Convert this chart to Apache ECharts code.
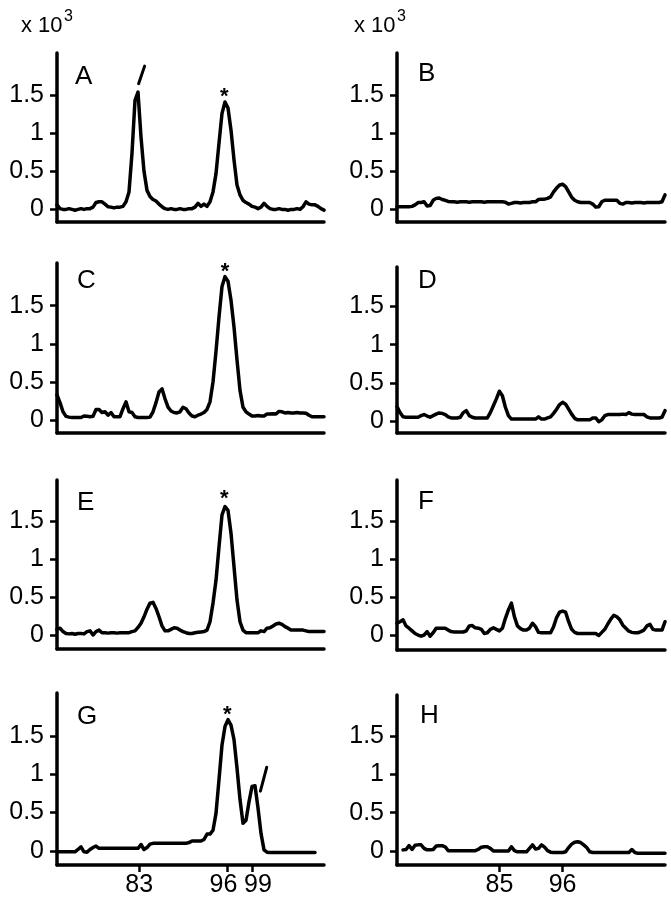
<!DOCTYPE html>
<html><head><meta charset="utf-8">
<script src="https://cdn.jsdelivr.net/npm/echarts@6/dist/echarts.min.js"></script>
<style>html,body{margin:0;padding:0;background:#fff}#c{width:671px;height:900px}</style>
</head><body><div id="c"></div>
<script>
// ---------- data (y in units of 10^3) ----------
const panelLetters = ['A','B','C','D','E','F','G','H'];

const traceA = [0.06,0.01,0,0,0.01,0,-0.01,0,0.01,0,0.01,0.01,0.03,0.09,0.1,0.1,0.07,0.035,0.03,0.02,
0.03,0.03,0.04,0.1,0.23,0.74,1.43,1.54,0.95,0.5,0.25,0.17,0.13,0.11,0.07,0.035,0.01,0,0.01,0,
0,0.01,0,0,0.01,0.01,0.03,0.08,0.04,0.07,0.04,0.1,0.23,0.47,0.87,1.26,1.41,1.33,1.04,0.65,
0.32,0.19,0.12,0.09,0.07,0.04,0.03,0.01,0.03,0.08,0.04,0.01,0,0,0.01,0,0,-0.01,0,0,
0.01,0,0.035,0.1,0.07,0.06,0.06,0.04,0.01,-0.01];

const traceB = [0.035,0.035,0.035,0.035,0.035,0.04,0.06,0.09,0.09,0.1,0.045,0.05,0.12,0.145,0.15,0.13,0.12,0.105,0.1,0.1,
0.095,0.1,0.1,0.1,0.095,0.1,0.1,0.1,0.1,0.095,0.1,0.1,0.1,0.1,0.1,0.1,0.095,0.07,0.08,0.09,
0.09,0.085,0.09,0.09,0.09,0.1,0.1,0.13,0.135,0.135,0.145,0.165,0.23,0.28,0.32,0.33,0.3,0.23,0.16,0.12,
0.1,0.09,0.09,0.09,0.09,0.07,0.03,0.035,0.1,0.12,0.12,0.12,0.12,0.12,0.08,0.07,0.09,0.09,0.085,0.09,
0.09,0.09,0.085,0.09,0.09,0.09,0.09,0.09,0.1,0.19];

const traceC = [0.33,0.23,0.11,0.05,0.04,0.035,0.035,0.035,0.035,0.055,0.05,0.045,0.05,0.14,0.14,0.1,0.11,0.065,0.1,0.045,
0.045,0.045,0.15,0.24,0.11,0.1,0.045,0.035,0.035,0.035,0.035,0.04,0.11,0.23,0.37,0.41,0.28,0.17,0.12,0.1,
0.095,0.11,0.17,0.15,0.095,0.055,0.045,0.065,0.08,0.1,0.14,0.24,0.5,0.9,1.35,1.75,1.88,1.82,1.57,1.22,
0.79,0.39,0.17,0.11,0.08,0.055,0.055,0.06,0.055,0.055,0.08,0.08,0.085,0.08,0.115,0.11,0.095,0.1,0.095,0.095,
0.1,0.095,0.095,0.09,0.065,0.045,0.045,0.045,0.045,0.045];

const traceD = [0.19,0.11,0.055,0.05,0.05,0.05,0.05,0.05,0.07,0.085,0.065,0.05,0.07,0.09,0.105,0.1,0.085,0.055,0.04,0.04,
0.04,0.05,0.11,0.135,0.07,0.05,0.04,0.04,0.04,0.04,0.04,0.11,0.2,0.29,0.39,0.33,0.18,0.07,0.025,0.025,
0.025,0.025,0.025,0.025,0.025,0.025,0.025,0.055,0.025,0.025,0.04,0.055,0.1,0.155,0.215,0.245,0.22,0.155,0.09,0.035,
0.015,0.015,0.015,0.015,0.015,0.04,0.04,-0.01,0.015,0.07,0.085,0.085,0.085,0.085,0.085,0.09,0.085,0.11,0.09,0.085,
0.085,0.085,0.085,0.055,0.04,0.04,0.04,0.04,0.05,0.135];

const traceE = [0.075,0.09,0.045,0.02,0.015,0.02,0.01,0.02,0.02,0.015,0.045,0.055,0,0.045,0.065,0.03,0.03,0.025,0.03,0.03,
0.025,0.03,0.03,0.03,0.03,0.045,0.055,0.1,0.155,0.24,0.34,0.42,0.43,0.35,0.24,0.12,0.055,0.055,0.075,0.095,
0.09,0.065,0.045,0.03,0.02,0.02,0.03,0.035,0.04,0.045,0.065,0.175,0.42,0.72,1.16,1.58,1.69,1.64,1.34,0.9,
0.46,0.175,0.065,0.03,0.03,0.03,0.03,0.03,0.055,0.045,0.09,0.095,0.12,0.145,0.155,0.14,0.11,0.09,0.065,0.065,
0.065,0.065,0.065,0.055,0.045,0.045,0.045,0.045,0.045,0.045];

const traceF = [0.155,0.175,0.2,0.12,0.09,0.055,0.02,0,-0.015,0,0.045,-0.015,0.03,0.09,0.09,0.09,0.09,0.065,0.045,0.04,
0.04,0.04,0.04,0.055,0.12,0.125,0.095,0.09,0.075,0.02,0.03,0.075,0.095,0.075,0.055,0.09,0.22,0.33,0.42,0.24,
0.12,0.085,0.065,0.065,0.09,0.155,0.11,0.035,0.03,0.03,0.03,0.03,0.11,0.23,0.3,0.315,0.3,0.175,0.075,0.035,
0.02,0.02,0.02,0.02,0.02,0.02,0.02,-0.005,0.035,0.075,0.145,0.21,0.26,0.24,0.2,0.13,0.09,0.05,0.035,0.03,
0.03,0.045,0.065,0.12,0.14,0.075,0.065,0.065,0.065,0.175];

const traceG = [-0.01,-0.01,-0.01,-0.01,-0.01,-0.01,-0.01,0.02,0.055,-0.01,-0.015,0.02,0.045,0.065,0.035,0.035,0.035,0.035,0.035,0.035,
0.035,0.035,0.035,0.035,0.035,0.035,0.035,0.035,0.085,0.02,0.045,0.09,0.1,0.1,0.1,0.1,0.1,0.1,0.1,0.1,
0.1,0.1,0.1,0.1,0.11,0.13,0.13,0.13,0.13,0.15,0.22,0.22,0.27,0.49,0.93,1.38,1.62,1.71,1.64,1.45,
1.08,0.67,0.36,0.4,0.64,0.84,0.85,0.56,0.23,0.015,-0.015,-0.02,-0.02,-0.02,-0.02,-0.02,-0.02,-0.02,-0.02,-0.02,
-0.02,-0.02,-0.02,-0.02,-0.02,-0.02,-0.02,null,null,null];

const traceH = [null,null,0.015,0.02,0.07,0.02,0.075,0.08,0.08,0.035,0.015,0.015,0.02,0.065,0.07,0.07,0.055,0.005,0.005,0.005,
0.005,0.005,0.005,0.005,0.005,0.005,0.005,0.02,0.05,0.055,0.055,0.035,0,0,0,0,0,0,0.055,0.005,
-0.01,-0.01,-0.01,-0.01,0.035,0.08,0.025,0.035,0.08,0.05,0.005,-0.015,-0.02,-0.02,-0.02,-0.02,-0.01,0.045,0.09,0.115,
0.12,0.11,0.08,0.045,-0.01,-0.02,-0.02,-0.02,-0.02,-0.02,-0.02,-0.02,-0.02,-0.02,-0.02,-0.02,-0.02,-0.02,0.02,-0.02,
-0.03,-0.03,-0.03,-0.03,-0.03,-0.03,-0.03,-0.03,-0.03,-0.03];

const traces = [traceA, traceB, traceC, traceD, traceE, traceF, traceG, traceH];

const yTickValues = [0, 0.5, 1, 1.5];
const leftTickPositions = [27.4, 56.8, 65.0];
const leftTickLabels = ['83', '96', '99'];
const rightTickPositions = [34, 55];
const rightTickLabels = ['85', '96'];

// asterisk above the peak at 96 ; slash pointing at the extra peak
const starMarks = [[55.8, 1.545], null, [56, 2.01], null, [55.8, 1.855], null, [56.8, 1.84], null];
const arrowMarks = [[[27.2, 1.65], [29.2, 1.88]], null, null, null, null, null, [[67.8, 0.78], [69.9, 1.09]], null];

const unitText = 'x 10';
const unitExponent = '3';

// ---------- layout ----------
const FONT = 'Liberation Sans, Arial, Helvetica, sans-serif';
const LABEL_FS = 25;
// horizontal nudge (px) of each bottom tick label away from its tick, as in the figure
const leftLabelShift = [0, -4, 6];
const rightLabelShift = [0, 0];
const layout = [
  {left: 57,  top: 53,  width: 267, height: 169, min: -0.165, max: 2.052, letter: [75, 76.5]},
  {left: 397, top: 53,  width: 268, height: 169, min: -0.165, max: 2.052, letter: [418, 74]},
  {left: 57,  top: 263, width: 267, height: 170, min: -0.168, max: 2.058, letter: [77, 281]},
  {left: 397, top: 267, width: 268, height: 166, min: -0.157, max: 2.016, letter: [418, 281]},
  {left: 57,  top: 480, width: 267, height: 169, min: -0.184, max: 2.04,  letter: [77, 502.5]},
  {left: 397, top: 480, width: 268, height: 170, min: -0.197, max: 2.04,  letter: [418, 501.5]},
  {left: 57,  top: 693, width: 267, height: 172, min: -0.182, max: 2.057, letter: [77, 716.5]},
  {left: 397, top: 695, width: 268, height: 170, min: -0.182, max: 2.031, letter: [420, 715.5]}
];

const grids = [], xAxes = [], yAxes = [], series = [], graphics = [];

function richFor(shifts) {
  const r = {};
  shifts.forEach((s, j) => {
    r['s' + j] = {fontSize: LABEL_FS, fontFamily: FONT, color: '#000',
      padding: s < 0 ? [0, -2 * s, 0, 0] : [0, 0, 0, 2 * s]};
  });
  return r;
}
function labelFormatter(pos, lab) {
  return v => { const j = pos.findIndex(p => Math.abs(p - v) < 1e-6); return j >= 0 ? '{s' + j + '|' + lab[j] + '}' : ''; };
}

layout.forEach((L, k) => {
  grids.push({left: L.left, top: L.top, width: L.width, height: L.height, containLabel: false, outerBoundsMode: 'none'});
  const bottom = k >= 6;
  const isLeft = k % 2 === 0;
  const tPos = isLeft ? leftTickPositions : rightTickPositions;
  const tLab = isLeft ? leftTickLabels : rightTickLabels;
  const tShift = isLeft ? leftLabelShift : rightLabelShift;
  // alternate labels go on two stacked axes so that adjacent labels (96 / 99) are not auto-hidden
  const posMain = tPos.filter((p, j) => j % 2 === 0);
  xAxes.push({
    type: 'value', gridIndex: k, min: 0, max: 89,
    axisLine: {show: true, onZero: false, lineStyle: {color: '#000', width: 3.5}},
    axisTick: bottom ? {show: true, customValues: tPos, length: 7, lineStyle: {color: '#000', width: 2.5}} : {show: false},
    axisLabel: bottom ? {
      show: true, customValues: posMain, margin: 8, color: '#000', fontSize: LABEL_FS, fontFamily: FONT,
      hideOverlap: false, formatter: labelFormatter(tPos, tLab), rich: richFor(tShift)
    } : {show: false},
    splitLine: {show: false}
  });
  yAxes.push({
    type: 'value', gridIndex: k, min: L.min, max: L.max,
    axisLine: {show: true, onZero: false, lineStyle: {color: '#000', width: 3.5}},
    axisTick: {show: true, customValues: yTickValues, length: 7, lineStyle: {color: '#000', width: 2.5}},
    axisLabel: {show: true, customValues: yTickValues, margin: 13, color: '#000', fontSize: LABEL_FS, fontFamily: FONT,
      hideOverlap: false, formatter: v => String(v)},
    splitLine: {show: false}
  });
  const data = [];
  traces[k].forEach((y, i) => { if (y !== null) data.push([i, y]); });
  const s = {
    type: 'line', xAxisIndex: k, yAxisIndex: k, data: data, symbol: 'none', silent: true,
    lineStyle: {color: '#000', width: 3.5, join: 'round', cap: 'round'}, animation: false
  };
  if (starMarks[k]) {
    s.markPoint = {
      symbol: 'circle', symbolSize: 1, silent: true, animation: false,
      itemStyle: {color: 'rgba(0,0,0,0)'},
      label: {show: true, position: 'inside', formatter: '*', color: '#000', fontSize: 22, fontWeight: 'bold', fontFamily: FONT, offset: [0, 5]},
      data: [{coord: starMarks[k]}]
    };
  }
  if (arrowMarks[k]) {
    s.markLine = {
      symbol: ['none', 'none'], silent: true, animation: false,
      label: {show: false},
      lineStyle: {color: '#000', width: 3, type: 'solid', cap: 'round'},
      data: [[{coord: arrowMarks[k][0]}, {coord: arrowMarks[k][1]}]]
    };
  }
  series.push(s);
  graphics.push({type: 'text', x: L.letter[0], y: L.letter[1], silent: true,
    style: {text: panelLetters[k], fontSize: 26, fontFamily: FONT, fill: '#000', align: 'left', verticalAlign: 'middle'}});
});

// overlay grids carrying the remaining bottom labels (same rectangles as G and H)
[6, 7].forEach(k => {
  const L = layout[k];
  const isLeft = k % 2 === 0;
  const tPos = isLeft ? leftTickPositions : rightTickPositions;
  const tLab = isLeft ? leftTickLabels : rightTickLabels;
  const tShift = isLeft ? leftLabelShift : rightLabelShift;
  const posAlt = tPos.filter((p, j) => j % 2 === 1);
  const gi = grids.length;
  grids.push({left: L.left, top: L.top, width: L.width, height: L.height, containLabel: false, outerBoundsMode: 'none'});
  xAxes.push({
    type: 'value', gridIndex: gi, min: 0, max: 89,
    axisLine: {show: false}, axisTick: {show: false}, splitLine: {show: false},
    axisLabel: {show: true, customValues: posAlt, margin: 8, color: '#000', fontSize: LABEL_FS, fontFamily: FONT,
      hideOverlap: false, formatter: labelFormatter(tPos, tLab), rich: richFor(tShift)}
  });
  yAxes.push({type: 'value', gridIndex: gi, min: L.min, max: L.max, show: false});
});

// unit labels above each column
[[21, 64], [354, 397]].forEach(p => {
  graphics.push({type: 'text', x: p[0], y: 25.5, silent: true,
    style: {text: unitText, fontSize: 22, fontFamily: FONT, fill: '#000', align: 'left', verticalAlign: 'middle'}});
  graphics.push({type: 'text', x: p[1], y: 17, silent: true,
    style: {text: unitExponent, fontSize: 16, fontFamily: FONT, fill: '#000', align: 'left', verticalAlign: 'middle'}});
});

const chart = echarts.init(document.getElementById('c'), null, {renderer: 'canvas'});
chart.setOption({
  backgroundColor: '#fff',
  animation: false,
  grid: grids, xAxis: xAxes, yAxis: yAxes, series: series, graphic: graphics
});
</script></body></html>
